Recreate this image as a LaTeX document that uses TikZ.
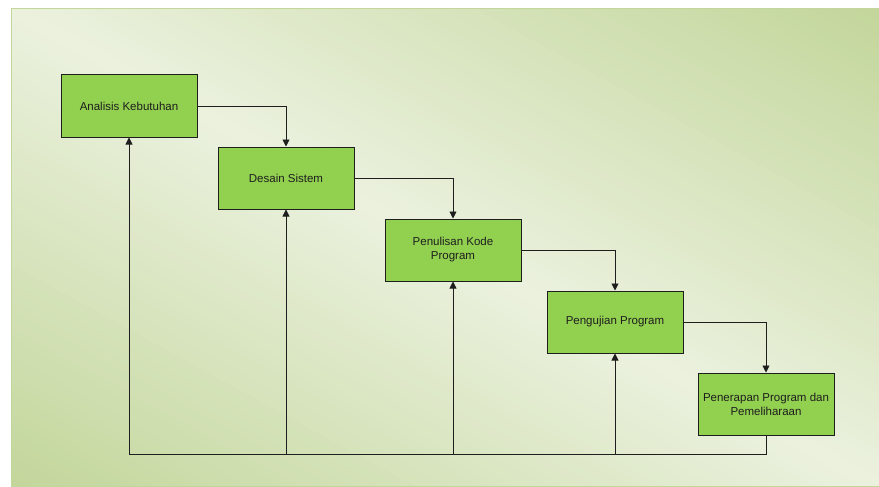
\documentclass[tikz,border=0pt]{standalone}
\usepackage{fontspec}
\setmainfont{Liberation Sans}
\usetikzlibrary{arrows.meta}
\definecolor{boxgreen}{HTML}{92D050}
\definecolor{bgdark}{HTML}{C3D69B}
\definecolor{bglight}{HTML}{EBF1DE}
\definecolor{linegray}{HTML}{1E1E1E}
\begin{document}
\begin{tikzpicture}[x=1pt,y=-1pt,
    phase/.style={draw=linegray,line width=1pt,fill=boxgreen,minimum width=136pt,
      minimum height=62pt,inner sep=2pt,align=center,text=linegray,
      font=\fontsize{11.5}{14}\selectfont},
    flow/.style={draw=linegray,line width=0.9pt,-{Triangle[width=7pt,length=7pt]}}]
      \useasboundingbox (0,0) rectangle (879,487);
      % background panel, light along the diagonal, darker to the corners
      \begin{scope}
        \clip (11,9) rectangle (879,486);
        \foreach \i in {-53,...,52} {
          \pgfmathsetmacro{\sa}{\i*8}
          \pgfmathsetmacro{\sb}{\i*8+9}
          \pgfmathsetmacro{\mix}{max(0,100-abs(\i*8+4)/4.18)}
          \fill[bglight!\mix!bgdark]
            ({445-0.4816*\sa-1000*0.8764},{247.5+0.8764*\sa-1000*0.4816}) --
            ({445-0.4816*\sa+1000*0.8764},{247.5+0.8764*\sa+1000*0.4816}) --
            ({445-0.4816*\sb+1000*0.8764},{247.5+0.8764*\sb+1000*0.4816}) --
            ({445-0.4816*\sb-1000*0.8764},{247.5+0.8764*\sb-1000*0.4816}) -- cycle;
        }
      \end{scope}
      \draw[bgdark,line width=1pt] (11,9) rectangle (879,486);
      \node[phase] (p1) at (129, 106) {Analisis Kebutuhan};
      \node[phase] (p2) at (286, 178) {Desain Sistem};
      \node[phase] (p3) at (453, 250) {Penulisan Kode\\Program};
      \node[phase] (p4) at (615, 322) {Pengujian Program};
      \node[phase] (p5) at (766, 404) {Penerapan Program dan\\Pemeliharaan};
      \coordinate (base) at (766, 454);
      \draw[flow] (p1.east) -| (p2.north);
      \draw[flow] (p2.east) -| (p3.north);
      \draw[flow] (p3.east) -| (p4.north);
      \draw[flow] (p4.east) -| (p5.north);
      \draw[draw=linegray,line width=0.9pt] (p5.south) -- (base) -- (p1.south |- base);
      \draw[flow] (p1.south |- base) -- (p1.south);
      \draw[flow] (p2.south |- base) -- (p2.south);
      \draw[flow] (p3.south |- base) -- (p3.south);
      \draw[flow] (p4.south |- base) -- (p4.south);
\end{tikzpicture}
\end{document}
